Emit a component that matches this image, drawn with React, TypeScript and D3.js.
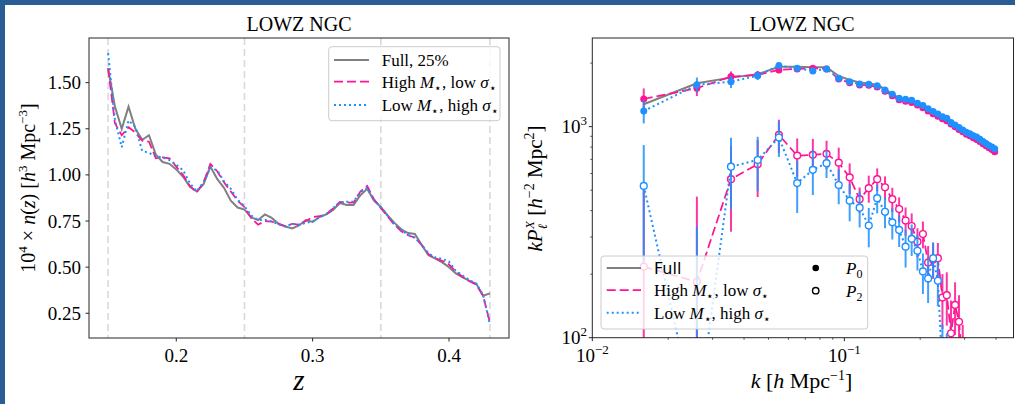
import React from "react";
import * as d3 from "d3";

// ---- left panel: n(z) ----
const zBins = [
  0.15, 0.155, 0.16, 0.165, 0.17, 0.175, 0.18, 0.185, 0.19, 0.195, 0.2, 0.205, 0.21, 0.215, 0.22,
  0.225, 0.23, 0.235, 0.24, 0.245, 0.25, 0.255, 0.26, 0.265, 0.27, 0.275, 0.28, 0.285, 0.29,
  0.295, 0.3, 0.305, 0.31, 0.315, 0.32, 0.325, 0.33, 0.335, 0.34, 0.345, 0.35, 0.355, 0.36,
  0.365, 0.37, 0.375, 0.38, 0.385, 0.39, 0.395, 0.4, 0.405, 0.41, 0.415, 0.42, 0.425, 0.43,
];
const nzFull = [
  1.578, 1.37, 1.25, 1.37, 1.25, 1.19, 1.215, 1.11, 1.07, 1.06, 1.03, 0.99, 0.935, 0.91, 0.95,
  1.045, 0.978, 0.93, 0.86, 0.823, 0.812, 0.77, 0.755, 0.786, 0.767, 0.735, 0.72, 0.71, 0.726,
  0.755, 0.745, 0.772, 0.786, 0.81, 0.848, 0.837, 0.837, 0.89, 0.925, 0.86, 0.826, 0.78, 0.74,
  0.705, 0.685, 0.68, 0.62, 0.564, 0.546, 0.526, 0.5, 0.466, 0.445, 0.426, 0.41, 0.345, 0.358,
];
const nzHighMass = [
  1.578, 1.28, 1.215, 1.258, 1.23, 1.185, 1.18, 1.09, 1.095, 1.09, 1.045, 1.0, 0.94, 0.905, 0.96,
  1.06, 1.02, 0.96, 0.91, 0.86, 0.825, 0.765, 0.73, 0.75, 0.747, 0.735, 0.722, 0.735, 0.731,
  0.75, 0.771, 0.776, 0.787, 0.818, 0.854, 0.85, 0.85, 0.91, 0.94, 0.868, 0.82, 0.775, 0.73,
  0.695, 0.673, 0.66, 0.62, 0.57, 0.548, 0.535, 0.515, 0.476, 0.448, 0.424, 0.405, 0.345, 0.2,
];
const nzLowMass = [
  1.66, 1.3, 1.15, 1.295, 1.26, 1.13, 1.12, 1.1, 1.095, 1.08, 1.055, 1.025, 0.955, 0.912, 0.96,
  1.04, 1.025, 0.965, 0.925, 0.865, 0.83, 0.78, 0.755, 0.757, 0.748, 0.732, 0.72, 0.735, 0.73,
  0.74, 0.748, 0.77, 0.787, 0.82, 0.852, 0.855, 0.855, 0.905, 0.93, 0.865, 0.825, 0.78, 0.73,
  0.7, 0.675, 0.66, 0.62, 0.575, 0.553, 0.545, 0.53, 0.48, 0.455, 0.43, 0.41, 0.35, 0.19,
];
const zCuts = [0.15, 0.25, 0.35, 0.43];
const zTicks = [0.2, 0.3, 0.4];
const nzTicks = [0.25, 0.5, 0.75, 1.0, 1.25, 1.5];

// ---- right panel: k P_l(k) ----
const kBins = [
  0.016, 0.026, 0.0355, 0.0453, 0.055, 0.065, 0.075, 0.085, 0.095, 0.105, 0.115, 0.125, 0.135,
  0.145, 0.155, 0.165, 0.175, 0.185, 0.195, 0.205, 0.215, 0.225, 0.235, 0.245, 0.255, 0.265,
  0.275, 0.285, 0.295, 0.305, 0.315, 0.325, 0.335, 0.345, 0.355, 0.365, 0.375, 0.385, 0.395,
];
const p0Full = [
  1277, 1606, 1707, 1771, 1923, 1923, 1910, 1910, 1738, 1664, 1620, 1600, 1580, 1500, 1425, 1365,
  1345, 1330, 1290, 1255, 1210, 1175, 1145, 1110, 1090, 1040, 1012, 985, 960, 935, 920, 900, 885,
  866, 845, 825, 808, 792, 775,
];
const p0High = [
  1352, 1521, 1726, 1757, 1857, 1877, 1891, 1877, 1680, 1615, 1575, 1570, 1540, 1470, 1400, 1340,
  1320, 1300, 1265, 1230, 1185, 1150, 1120, 1090, 1065, 1030, 1000, 970, 945, 920, 905, 885, 870,
  850, 830, 812, 795, 780, 760,
];
const p0HighErr = [
  165, 125, 100, 80, 65, 55, 50, 45, 40, 38, 35, 33, 31, 30, 28, 27, 26, 25, 24, 23, 22, 21, 20,
  19, 19, 18, 18, 17, 17, 16, 16, 15, 15, 15, 14, 14, 14, 13, 13,
];
const p0Low = [
  1186, 1578, 1633, 1744, 1946, 1891, 1837, 1877, 1694, 1633, 1592, 1588, 1564, 1493, 1423, 1363,
  1349, 1334, 1291, 1258, 1214, 1179, 1148, 1115, 1096, 1045, 1019, 990, 965, 940, 925, 905, 893,
  872, 850, 832, 815, 800, 785,
];
const p0LowErr = [
  150, 130, 110, 80, 65, 55, 50, 45, 40, 38, 35, 33, 31, 30, 28, 27, 26, 25, 24, 23, 22, 21, 20,
  19, 19, 18, 18, 17, 17, 16, 16, 15, 15, 15, 14, 14, 14, 13, 13,
];
const p2High = [
  217, 184, 564, 664, 914, 729, 735, 743, 675, 575, 453, 511, 564, 516, 453, 407, 359, 338, 285,
  310, 227, 235, 238, 155, 159, 105, 143, 119, 75, 60,
];
const p2HighErr = [
  300, 282, 246, 200, 165, 150, 140, 115, 120, 95, 62, 75, 70, 65, 60, 55, 55, 50, 45, 45, 45, 45,
  43, 45, 45, 45, 40, 40, 40, 40,
];
const p2Low = [
  524, 40, 646, 695, 888, 540, 624, 671, 529, 446, 413, 340, 458, 395, 352, 324, 270, 294, 258,
  206, 191, 238, 186, 70, 60, 50,
];
const p2LowErr = [
  294, 296, 240, 200, 170, 150, 150, 100, 100, 90, 80, 72, 70, 65, 60, 55, 55, 50, 50, 45, 45, 45,
  45, 45, 45, 45,
];
const kMajor = [0.01, 0.1];
const kMinor = [0.02, 0.03, 0.04, 0.05, 0.06, 0.07, 0.08, 0.09, 0.2, 0.3, 0.4];
const pMajor = [100, 1000];
const pMinor = [200, 300, 400, 500, 600, 700, 800, 900, 2000];

const PINK = "#ff1493";
const BLUE = "#1e90ff";
const GRAY = "#808080";
const SERIF = "'Liberation Serif', 'DejaVu Serif', serif";
const SPINE = "#262626";

const L = { x0: 89, x1: 509, y0: 38, y1: 338 };
const R = { x0: 592.3, x1: 1013.5, y0: 38, y1: 337.7 };

const xz = d3.scaleLinear().domain([0.136, 0.444]).range([L.x0, L.x1]);
const yn = d3.scaleLinear().domain([0.116, 1.742]).range([L.y1, L.y0]);
const xk = d3.scaleLog().domain([0.01, 0.469]).range([R.x0, R.x1]);
const yp = d3.scaleLog().domain([100, 2630]).range([R.y1, R.y0]);

const nzLine = d3
  .line<number>()
  .x((_, i) => xz(zBins[i]))
  .y((d) => yn(d));
const pkLine = d3
  .line<number>()
  .x((_, i) => xk(kBins[i]))
  .y((d) => yp(d));

const Sup = ({ children, size = 13, shift = 8 }: any) => (
  <tspan fontSize={size} baselineShift={`${shift}px`}>
    {children}
  </tspan>
);
const Sub = ({ children, size = 12, shift = -4 }: any) => (
  <tspan fontSize={size} baselineShift={`${shift}px`}>
    {children}
  </tspan>
);
const It = ({ children }: any) => <tspan fontStyle="italic">{children}</tspan>;

function ErrorBars({ vals, errs, color }: { vals: number[]; errs: number[]; color: string }) {
  return (
    <g stroke={color} strokeWidth={2} opacity={0.85}>
      {vals.map((v, i) => {
        const lo = v - errs[i] > 1 ? yp(v - errs[i]) : R.y1 + 20;
        return <line key={i} x1={xk(kBins[i])} x2={xk(kBins[i])} y1={yp(v + errs[i])} y2={lo} />;
      })}
    </g>
  );
}

function Markers({ vals, color, open }: { vals: number[]; color: string; open?: boolean }) {
  return (
    <g>
      {vals.map((v, i) => (
        <circle
          key={i}
          cx={xk(kBins[i])}
          cy={yp(v)}
          r={open ? 3.4 : 3.5}
          fill={open ? "white" : color}
          stroke={color}
          strokeWidth={open ? 1.4 : 0}
        />
      ))}
    </g>
  );
}

function LeftPanel() {
  return (
    <g>
      <defs>
        <clipPath id="clipL">
          <rect x={L.x0} y={L.y0} width={L.x1 - L.x0} height={L.y1 - L.y0} />
        </clipPath>
      </defs>
      <g clipPath="url(#clipL)">
        {zCuts.map((z) => (
          <line
            key={z}
            x1={xz(z)}
            x2={xz(z)}
            y1={L.y0}
            y2={L.y1}
            stroke="#d9d9d9"
            strokeWidth={1.6}
            strokeDasharray="7,4"
          />
        ))}
        <path d={nzLine(nzFull) || ""} fill="none" stroke={GRAY} strokeWidth={2} />
        <path d={nzLine(nzHighMass) || ""} fill="none" stroke={PINK} strokeWidth={1.75} strokeDasharray="9,4" />
        <path d={nzLine(nzLowMass) || ""} fill="none" stroke={BLUE} strokeWidth={2} strokeDasharray="2,3" />
      </g>
      <rect x={L.x0} y={L.y0} width={L.x1 - L.x0} height={L.y1 - L.y0} fill="none" stroke={SPINE} strokeWidth={1} />
      {zTicks.map((t) => (
        <g key={t}>
          <line x1={xz(t)} x2={xz(t)} y1={L.y1} y2={L.y1 + 3.5} stroke={SPINE} />
          <text x={xz(t)} y={362} textAnchor="middle" fontSize={19} fontFamily={SERIF}>
            {t.toFixed(1)}
          </text>
        </g>
      ))}
      {nzTicks.map((t) => (
        <g key={t}>
          <line x1={L.x0 - 3.5} x2={L.x0} y1={yn(t)} y2={yn(t)} stroke={SPINE} />
          <text x={81} y={yn(t) + 6.5} textAnchor="end" fontSize={19} fontFamily={SERIF}>
            {t.toFixed(2)}
          </text>
        </g>
      ))}
      <text x={299} y={31} textAnchor="middle" fontSize={20} fontFamily={SERIF}>
        LOWZ NGC
      </text>
      <text x={299} y={390} textAnchor="middle" fontSize={29} fontFamily={SERIF} fontStyle="italic">
        z
      </text>
      <text transform="translate(35,188) rotate(-90)" textAnchor="middle" fontSize={20} fontFamily={SERIF}>
        10<Sup>4</Sup> × <It>n</It>(<It>z</It>) [<It>h</It>
        <Sup>3</Sup> Mpc<Sup>−3</Sup>]
      </text>
      {/* legend */}
      <rect x={328.7} y={46.7} width={171.3} height={74} rx={3} fill="white" fillOpacity={0.8} stroke="#cccccc" />
      <line x1={334} x2={369} y1={60} y2={60} stroke={GRAY} strokeWidth={2} />
      <line x1={334} x2={369} y1={81.7} y2={81.7} stroke={PINK} strokeWidth={1.75} strokeDasharray="9,4" />
      <line x1={334} x2={369} y1={105} y2={105} stroke={BLUE} strokeWidth={2} strokeDasharray="2,3" />
      <g fontSize={17} fontFamily={SERIF}>
        <text x={381.7} y={66}>Full, 25%</text>
        <text x={381.7} y={87.5}>
          High <It>M</It>
          <Sub>⋆</Sub>, low <It>σ</It>
          <Sub>⋆</Sub>
        </text>
        <text x={381.7} y={110.5}>
          Low <It>M</It>
          <Sub>⋆</Sub>, high <It>σ</It>
          <Sub>⋆</Sub>
        </text>
      </g>
    </g>
  );
}

function RightPanel() {
  return (
    <g>
      <defs>
        <clipPath id="clipR">
          <rect x={R.x0} y={R.y0} width={R.x1 - R.x0} height={R.y1 - R.y0} />
        </clipPath>
      </defs>
      <g clipPath="url(#clipR)">
        <path d={pkLine(p0Full) || ""} fill="none" stroke={GRAY} strokeWidth={2} />
        {/* high mass, low sigma */}
        <ErrorBars vals={p0High} errs={p0HighErr} color={PINK} />
        <path d={pkLine(p0High) || ""} fill="none" stroke={PINK} strokeWidth={1.75} strokeDasharray="9,4" />
        <Markers vals={p0High} color={PINK} />
        <ErrorBars vals={p2High} errs={p2HighErr} color={PINK} />
        <path d={pkLine(p2High) || ""} fill="none" stroke={PINK} strokeWidth={1.75} strokeDasharray="9,4" />
        <Markers vals={p2High} color={PINK} open />
        {/* low mass, high sigma */}
        <ErrorBars vals={p0Low} errs={p0LowErr} color={BLUE} />
        <path d={pkLine(p0Low) || ""} fill="none" stroke={BLUE} strokeWidth={2} strokeDasharray="2,3" />
        <Markers vals={p0Low} color={BLUE} />
        <ErrorBars vals={p2Low} errs={p2LowErr} color={BLUE} />
        <path d={pkLine(p2Low) || ""} fill="none" stroke={BLUE} strokeWidth={2} strokeDasharray="2,3" />
        <Markers vals={p2Low} color={BLUE} open />
      </g>
      <rect x={R.x0} y={R.y0} width={R.x1 - R.x0} height={R.y1 - R.y0} fill="none" stroke={SPINE} strokeWidth={1} />
      {kMinor.map((t) => (
        <line key={t} x1={xk(t)} x2={xk(t)} y1={R.y1} y2={R.y1 + 2} stroke={SPINE} strokeWidth={0.8} />
      ))}
      {pMinor.map((t) => (
        <line key={t} x1={R.x0 - 2} x2={R.x0} y1={yp(t)} y2={yp(t)} stroke={SPINE} strokeWidth={0.8} />
      ))}
      {kMajor.map((t) => (
        <g key={t}>
          <line x1={xk(t)} x2={xk(t)} y1={R.y1} y2={R.y1 + 3.5} stroke={SPINE} />
          <text x={xk(t)} y={362} textAnchor="middle" fontSize={19} fontFamily={SERIF}>
            10<Sup>{"−" + Math.round(-Math.log10(t))}</Sup>
          </text>
        </g>
      ))}
      {pMajor.map((t) => (
        <g key={t}>
          <line x1={R.x0 - 3.5} x2={R.x0} y1={yp(t)} y2={yp(t)} stroke={SPINE} />
          <text x={587} y={yp(t) + 6.5} textAnchor="end" fontSize={19} fontFamily={SERIF}>
            10<Sup>{Math.round(Math.log10(t))}</Sup>
          </text>
        </g>
      ))}
      <text x={802} y={31} textAnchor="middle" fontSize={20} fontFamily={SERIF}>
        LOWZ NGC
      </text>
      <text x={801.5} y={388} textAnchor="middle" fontSize={22} fontFamily={SERIF}>
        <It>k</It> [<It>h</It> Mpc<Sup size={14}>−1</Sup>]
      </text>
      <text transform="translate(542,188.5) rotate(-90)" textAnchor="middle" fontSize={21} fontFamily={SERIF}>
        <It>kP</It>
        <tspan fontSize={13} fontStyle="italic" baselineShift="-5px">ℓ</tspan>
        <tspan fontSize={13} fontStyle="italic" baselineShift="8px" dx={-5}>X</tspan> [<It>h</It>
        <Sup size={14}>−2</Sup> Mpc<Sup size={14}>2</Sup>]
      </text>
      {/* legend */}
      <rect x={601} y={256} width={266.7} height={73} rx={3} fill="white" fillOpacity={0.8} stroke="#cccccc" />
      <line x1={606.7} x2={641} y1={268} y2={268} stroke={GRAY} strokeWidth={2} />
      <line x1={606.7} x2={641} y1={290} y2={290} stroke={PINK} strokeWidth={1.75} strokeDasharray="9,4" />
      <line x1={606.7} x2={641} y1={312.7} y2={312.7} stroke={BLUE} strokeWidth={2} strokeDasharray="2,3" />
      <text x={654} y={274} fontSize={16} fontFamily="'DejaVu Sans', sans-serif">
        Full
      </text>
      <g fontSize={17} fontFamily={SERIF}>
        <text x={654} y={296}>
          High <It>M</It>
          <Sub>⋆</Sub>, low <It>σ</It>
          <Sub>⋆</Sub>
        </text>
        <text x={654} y={318.7}>
          Low <It>M</It>
          <Sub>⋆</Sub>, high <It>σ</It>
          <Sub>⋆</Sub>
        </text>
        <circle cx={815.7} cy={268} r={3.3} fill="black" />
        <circle cx={815.7} cy={290.7} r={3.2} fill="white" stroke="black" strokeWidth={1.4} />
        <text x={846} y={274}>
          <It>P</It>
          <Sub>0</Sub>
        </text>
        <text x={846} y={297}>
          <It>P</It>
          <Sub>2</Sub>
        </text>
      </g>
    </g>
  );
}

export default function App() {
  return (
    <div style={{ position: "fixed", left: 0, top: 0 }}>
      <svg width={1015} height={404} style={{ display: "block", background: "white" }}>
        <rect x={0} y={0} width={1015} height={404} fill="white" />
        <LeftPanel />
        <RightPanel />
        <rect x={0} y={0} width={1015} height={5} fill="#2a5d96" />
        <rect x={0} y={0} width={5} height={404} fill="#2a5d96" />
      </svg>
    </div>
  );
}
